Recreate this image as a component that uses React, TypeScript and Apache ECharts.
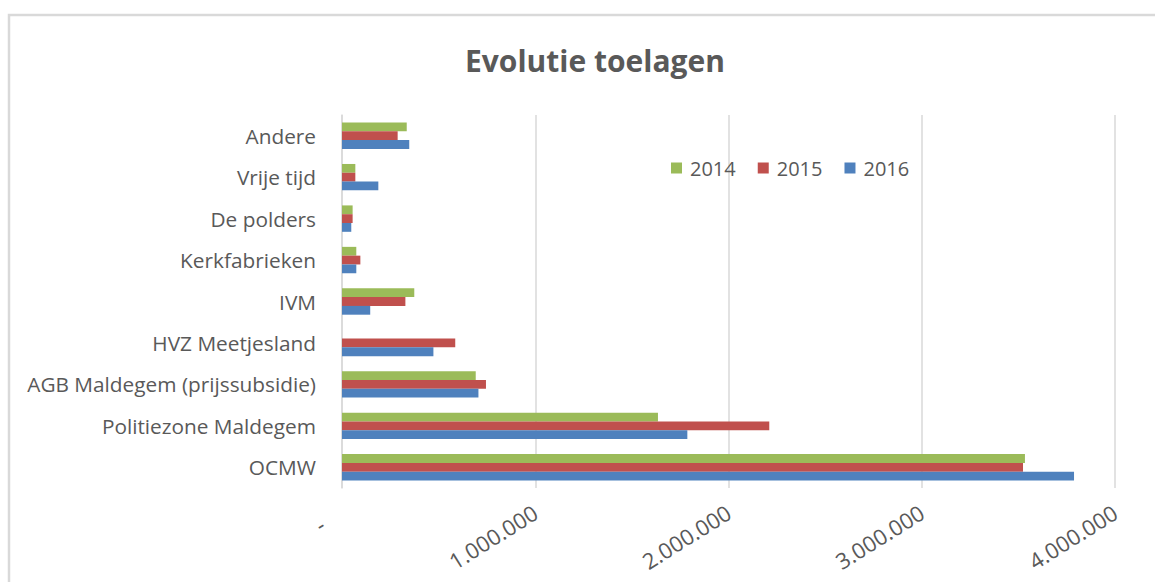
import React, { useEffect, useRef } from "react";
import * as echarts from "echarts";

const categories = [
  "OCMW",
  "Politiezone Maldegem",
  "AGB Maldegem (prijssubsidie)",
  "HVZ Meetjesland",
  "IVM",
  "Kerkfabrieken",
  "De polders",
  "Vrije tijd",
  "Andere",
];
const values2014 = [3534000, 1635000, 692000, 0, 374000, 74000, 55000, 69000, 335000];
const values2015 = [3524000, 2211000, 745000, 586000, 328000, 95000, 55000, 69000, 288000];
const values2016 = [3788000, 1787000, 706000, 473000, 146000, 74000, 48000, 188000, 348000];
const seriesNames = ["2014", "2015", "2016"];
const seriesColors = ["#9BBB59", "#C0504D", "#4F81BD"];
const xTicks = [0, 1000000, 2000000, 3000000, 4000000];

const FONT = "'Open Sans', 'Noto Sans', sans-serif";
const TEXT = "#595959";

function fmt(v: number): string {
  if (v === 0) return "-\u00a0\u00a0\u00a0\u00a0";
  return String(Math.round(v)).replace(/\B(?=(\d{3})+(?!\d))/g, ".");
}

export default function App() {
  const ref = useRef<HTMLDivElement>(null);
  useEffect(() => {
    if (!ref.current) return;
    const chart = echarts.init(ref.current, undefined, { renderer: "svg" });
    const data = [values2014, values2015, values2016];
    chart.setOption({
      animation: false,
      backgroundColor: "#ffffff",
      title: {
        text: "Evolutie toelagen",
        left: 590,
        textAlign: "center",
        top: 40,
        textStyle: { fontFamily: FONT, fontSize: 30, fontWeight: "bold", color: TEXT },
      },
      legend: {
        data: seriesNames,
        left: 666,
        top: 153,
        itemWidth: 11,
        itemHeight: 11,
        itemGap: 22,
        icon: "rect",
        textStyle: { fontFamily: FONT, fontSize: 20, color: TEXT, padding: [0, 0, 0, 3] },
      },
      graphic: [
        {
          type: "rect",
          shape: { x: 9, y: 15, width: 1200, height: 620 },
          style: { fill: "none", stroke: "#D9D9D9", lineWidth: 2.5 },
          silent: true,
          z: 0,
        },
      ],
      grid: { left: 342, right: 40, top: 115, bottom: 94, containLabel: false },
      xAxis: {
        type: "value",
        min: xTicks[0],
        max: xTicks[xTicks.length - 1],
        interval: xTicks[1] - xTicks[0],
        axisLine: { show: false },
        axisTick: { show: false },
        splitLine: { show: true, lineStyle: { color: "#D9D9D9", width: 1.5 } },
        axisLabel: {
          formatter: (v: number) => fmt(v),
          rotate: 32,
          margin: 22,
          fontFamily: FONT,
          fontSize: 22,
          color: TEXT,
        },
      },
      yAxis: {
        type: "category",
        data: categories,
        axisLine: { show: true, lineStyle: { color: "#D9D9D9", width: 1.5 } },
        axisTick: { show: false },
        axisLabel: { fontFamily: FONT, fontSize: 20.8, color: TEXT, margin: 26 },
      },
      series: seriesNames.map((name, i) => ({
        name,
        type: "bar",
        data: data[i],
        barWidth: 8.8,
        barGap: "0%",
        itemStyle: { color: seriesColors[i] },
      })),
    });
    return () => chart.dispose();
  }, []);
  return (
    <div
      ref={ref}
      style={{ position: "absolute", left: 0, top: 0, width: 1155, height: 582 }}
    />
  );
}
